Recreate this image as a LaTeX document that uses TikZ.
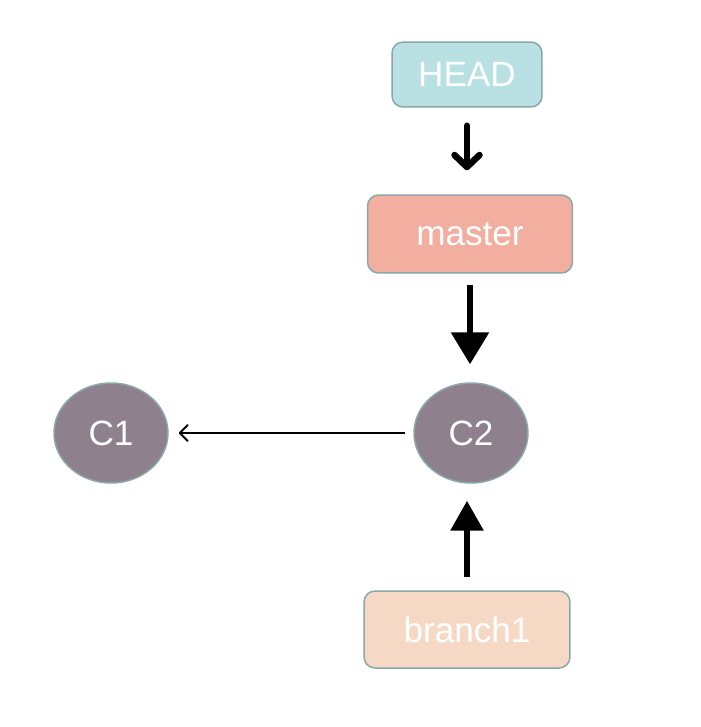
\documentclass[tikz,border=0pt]{standalone}
\usepackage{fontspec}
\setmainfont{Liberation Sans}
\usetikzlibrary{arrows.meta,shapes.geometric}

\definecolor{headfill}{HTML}{B9E0E3}
\definecolor{masterfill}{HTML}{F2AF9F}
\definecolor{branchfill}{HTML}{F5D9C5}
\definecolor{commitfill}{HTML}{8E808C}
\definecolor{edge}{HTML}{8AA8A8}

\tikzset{
  ref/.style={draw=edge, line width=0.03cm, rounded corners=0.22cm, text=white,
    font=\fontsize{20pt}{22pt}\selectfont},
  commit/.style={draw=edge, line width=0.03cm, ellipse, fill=commitfill, text=white,
    minimum width=2.28cm, minimum height=2cm, inner sep=0pt,
    font=\fontsize{20pt}{22pt}\selectfont},
}

\begin{document}
\begin{tikzpicture}[x=0.02cm, y=-0.02cm]
      \useasboundingbox (0,0) rectangle (700,727);

      \node[ref, fill=headfill, minimum width=3cm, minimum height=1.3cm] (head) at (467,74.5) {HEAD};
      \node[ref, fill=masterfill, minimum width=4.1cm, minimum height=1.56cm] (master) at (470,234) {master};
      \node[ref, fill=branchfill, minimum width=4.12cm, minimum height=1.54cm] (branch1) at (467,629.5) {branch1};

      \node[commit] (c2) at (471,433) {C2};
      \node[commit] (c1) at (111,433) {C1};

      \draw[line width=0.13cm, line cap=round, -{Straight Barb[length=0.24cm, width=0.5cm, round]},
        shorten <=0.36cm, shorten >=0.48cm] (head.south) -- (head |- master.north);
      \draw[line width=0.12cm, -{Triangle[length=0.64cm, width=0.74cm]},
        shorten <=0.22cm, shorten >=0.36cm] (master.south) -- (master |- c2.north);
      \draw[line width=0.12cm, -{Triangle[length=0.6cm, width=0.64cm]},
        shorten <=0.26cm, shorten >=0.34cm] (branch1.north) -- (branch1 |- c2.south);
      \draw[line width=0.04cm, -{Straight Barb[length=0.16cm, width=0.32cm, round]},
        shorten <=0.16cm, shorten >=0.2cm] (c2) -- (c1);
    \end{tikzpicture}
\end{document}
